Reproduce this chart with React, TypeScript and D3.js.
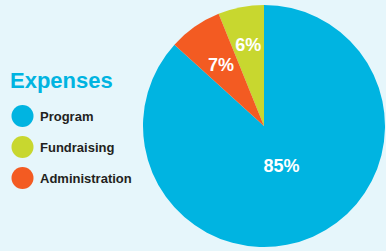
import * as d3 from 'd3'
import React, { useEffect, useRef } from 'react'

const categories = ['Program', 'Fundraising', 'Administration']
const values = [85, 6, 7]
const labels = ['85%', '6%', '7%']
// drawing order clockwise from 12 o'clock
const pieOrder = ['Program', 'Administration', 'Fundraising']

const colors: any = {
  Program: '#00b4e1',
  Fundraising: '#c8d72f',
  Administration: '#f35b22',
}
const labelRadius: any = { Program: 43, Fundraising: 83, Administration: 75 }

const App = () => {
  const chartRef = useRef(null)

  useEffect(() => {
    const width = 386
    const height = 251
    const cx = 264
    const cy = 126
    const radius = 121

    const svg = d3
      .select(chartRef.current)
      .attr('width', width)
      .attr('height', height)

    svg.selectAll('*').remove()

    svg
      .append('rect')
      .attr('width', width)
      .attr('height', height)
      .attr('fill', '#e6f6fb')

    const data = categories.map((c, i) => ({ name: c, value: values[i], label: labels[i] }))

    const pie = d3
      .pie<any>()
      .sort((a: any, b: any) => pieOrder.indexOf(a.name) - pieOrder.indexOf(b.name))
      .value((d: any) => d.value)

    const arc: any = d3.arc().innerRadius(0).outerRadius(radius)

    const g = svg.append('g').attr('transform', `translate(${cx}, ${cy})`)

    const arcs = g.selectAll('.arc').data(pie(data)).enter().append('g').attr('class', 'arc')

    arcs
      .append('path')
      .attr('d', arc)
      .attr('fill', (d: any) => colors[d.data.name])

    arcs
      .append('text')
      .attr('transform', (d: any) => {
        const a = (d.startAngle + d.endAngle) / 2
        const r = labelRadius[d.data.name]
        return `translate(${Math.sin(a) * r}, ${-Math.cos(a) * r})`
      })
      .attr('text-anchor', 'middle')
      .attr('dy', '0.36em')
      .attr('fill', '#ffffff')
      .attr('font-family', 'Liberation Sans, Arial, sans-serif')
      .attr('font-weight', 'bold')
      .attr('font-size', 18)
      .text((d: any) => d.data.label)

    // legend
    const legend = svg.append('g')

    legend
      .append('text')
      .attr('x', 10)
      .attr('y', 88)
      .attr('fill', '#00b4e1')
      .attr('font-family', 'Liberation Sans, Arial, sans-serif')
      .attr('font-weight', 'bold')
      .attr('font-size', 22)
      .text('Expenses')

    const y = d3.scalePoint().domain(categories).range([116, 178])

    const items = legend
      .selectAll('.item')
      .data(categories)
      .enter()
      .append('g')
      .attr('class', 'item')
      .attr('transform', (d) => `translate(0, ${y(d)})`)

    items
      .append('circle')
      .attr('cx', 22.5)
      .attr('cy', 0)
      .attr('r', 11)
      .attr('fill', (d) => colors[d])

    items
      .append('text')
      .attr('x', 40)
      .attr('y', 0)
      .attr('dy', '0.36em')
      .attr('fill', '#231f20')
      .attr('font-family', 'Liberation Sans, Arial, sans-serif')
      .attr('font-weight', 'bold')
      .attr('font-size', 13)
      .text((d) => d)
  }, [])

  return (
    <>
      <style>{'body{margin:0}'}</style>
      <svg ref={chartRef} style={{ display: 'block' }}></svg>
    </>
  )
}

export default App
